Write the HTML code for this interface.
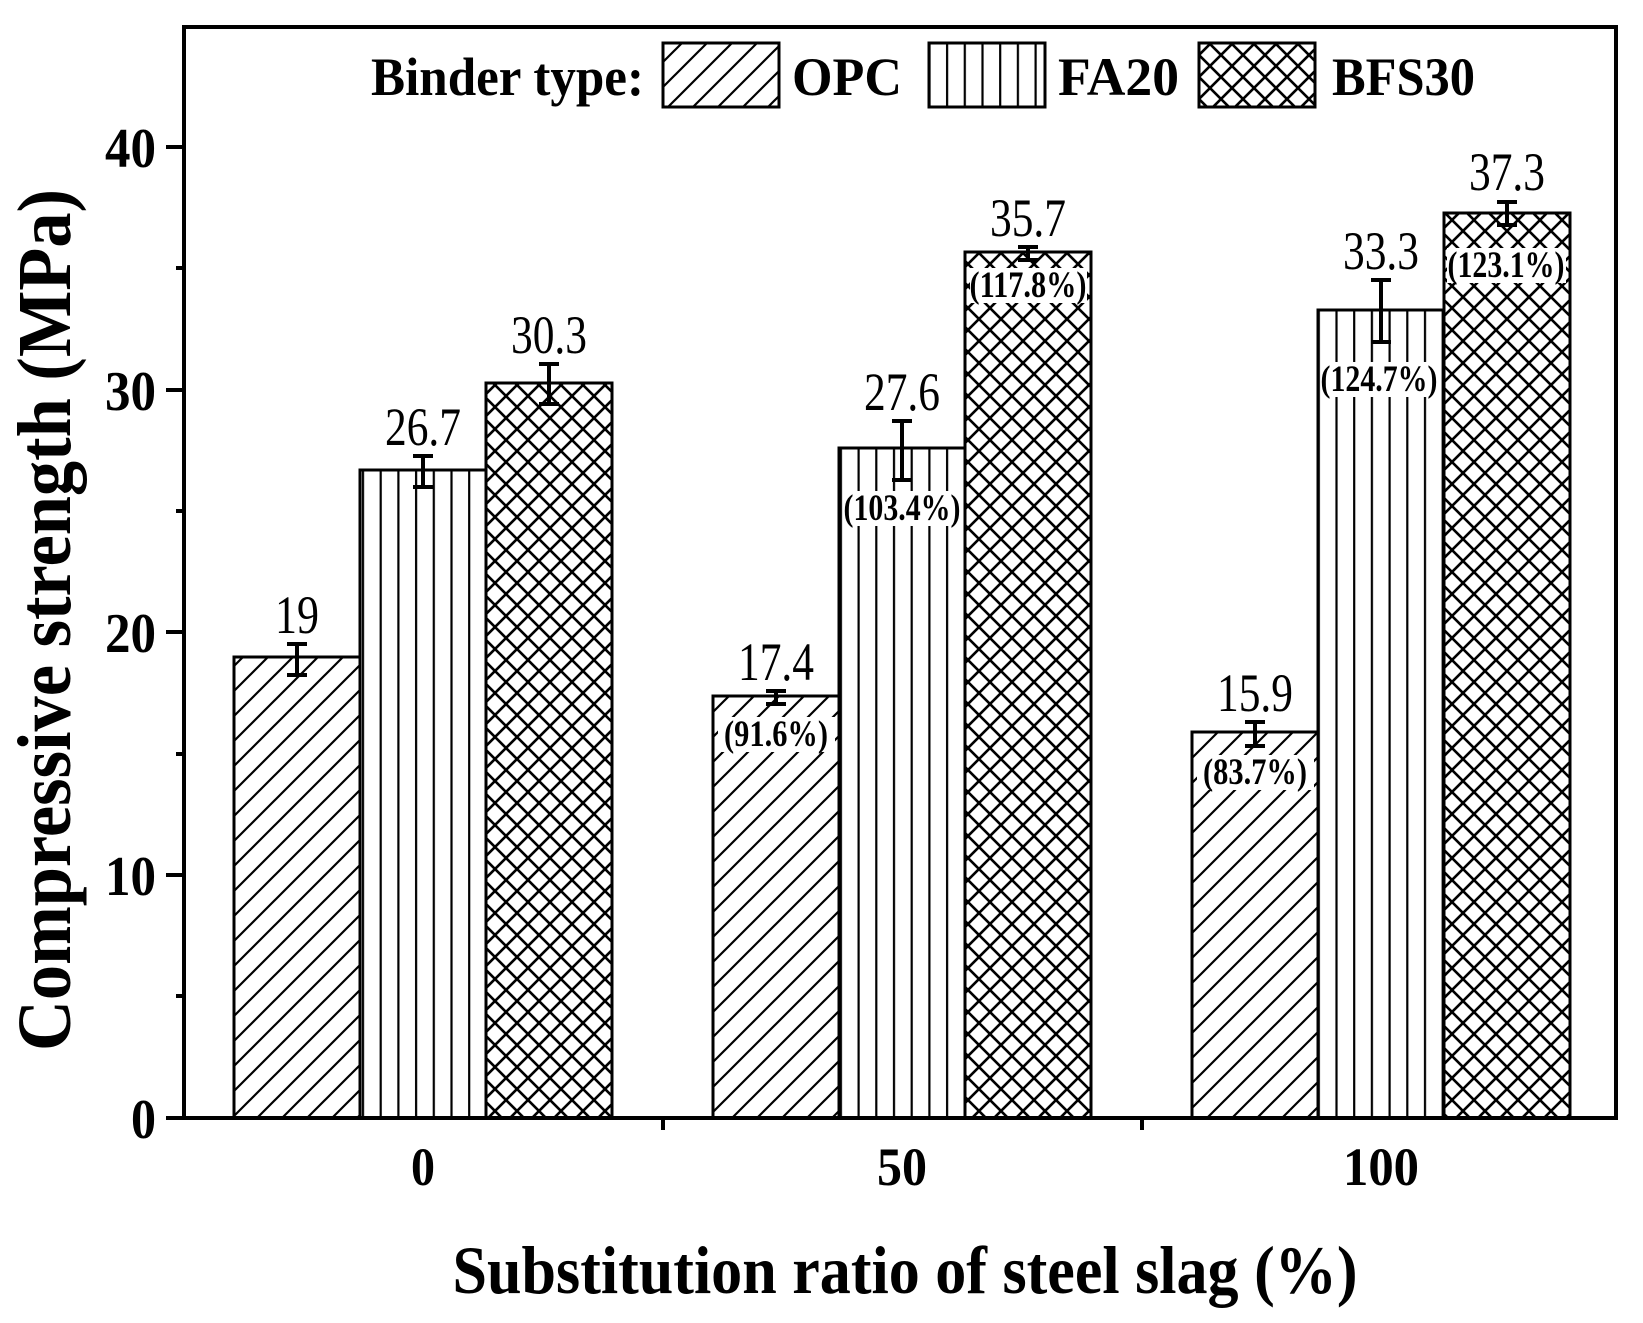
<!DOCTYPE html>
<html><head><meta charset="utf-8"><style>html,body{margin:0;padding:0;background:#fff}svg{display:block}</style></head>
<body>
<svg width="1643" height="1323" viewBox="0 0 1643 1323" xmlns="http://www.w3.org/2000/svg">
<defs>
<pattern id="diag" patternUnits="userSpaceOnUse" width="25" height="25">
<path d="M-5,30 L30,-5 M-5,5 L5,-5 M20,30 L30,20" stroke="#000" stroke-width="2.2"/>
</pattern>
<pattern id="vert" patternUnits="userSpaceOnUse" width="17.7" height="20">
<path d="M9,0 V20" stroke="#000" stroke-width="2.2"/>
</pattern>
<pattern id="cross" patternUnits="userSpaceOnUse" width="22" height="22">
<path d="M0,0 L22,22 M22,0 L0,22" stroke="#000" stroke-width="2.6"/>
</pattern>
</defs>
<g font-family="Liberation Serif, serif">
<g stroke="#000" stroke-width="3">
<rect x="234" y="657" width="126" height="461" fill="url(#diag)"/>
<rect x="360" y="470" width="126" height="648" fill="url(#vert)"/>
<rect x="486" y="383" width="126" height="735" fill="url(#cross)"/>
<rect x="713" y="696" width="126" height="422" fill="url(#diag)"/>
<rect x="839" y="448" width="126" height="670" fill="url(#vert)"/>
<rect x="965" y="252" width="126" height="866" fill="url(#cross)"/>
<rect x="1192" y="732" width="126" height="386" fill="url(#diag)"/>
<rect x="1318" y="310" width="126" height="808" fill="url(#vert)"/>
<rect x="1444" y="213" width="126" height="905" fill="url(#cross)"/>
</g>
<g stroke="#000" stroke-width="4">
<path d="M297,644V675M287,644H307M287,675H307"/>
<path d="M423,456V487M413,456H433M413,487H433"/>
<path d="M549,364V404M539,364H559M539,404H559"/>
<path d="M776,691V704M766,691H786M766,704H786"/>
<path d="M902,421V480M892,421H912M892,480H912"/>
<path d="M1028,247V260M1018,247H1038M1018,260H1038"/>
<path d="M1255,722V746M1245,722H1265M1245,746H1265"/>
<path d="M1381,280V342M1371,280H1391M1371,342H1391"/>
<path d="M1507,202V225M1497,202H1517M1497,225H1517"/>
</g>
<g fill="#fff">
<rect x="718" y="717" width="117" height="35"/>
<rect x="844" y="491" width="117" height="35"/>
<rect x="970" y="268" width="117" height="35"/>
<rect x="1197" y="755" width="117" height="35"/>
<rect x="1321" y="362" width="117" height="35"/>
<rect x="1447" y="248" width="119" height="35"/>
</g>
<g font-weight="bold" font-size="37" text-anchor="middle">
<text x="776" y="746" textLength="104" lengthAdjust="spacingAndGlyphs">(91.6%)</text>
<text x="902" y="520" textLength="117" lengthAdjust="spacingAndGlyphs">(103.4%)</text>
<text x="1028" y="297" textLength="117" lengthAdjust="spacingAndGlyphs">(117.8%)</text>
<text x="1255" y="784" textLength="104" lengthAdjust="spacingAndGlyphs">(83.7%)</text>
<text x="1379" y="391" textLength="117" lengthAdjust="spacingAndGlyphs">(124.7%)</text>
<text x="1506" y="277" textLength="117" lengthAdjust="spacingAndGlyphs">(123.1%)</text>
</g>
<g font-size="54" text-anchor="middle">
<text x="297" y="633" textLength="44" lengthAdjust="spacingAndGlyphs">19</text>
<text x="423" y="445" textLength="76" lengthAdjust="spacingAndGlyphs">26.7</text>
<text x="549" y="353" textLength="76" lengthAdjust="spacingAndGlyphs">30.3</text>
<text x="776" y="680" textLength="76" lengthAdjust="spacingAndGlyphs">17.4</text>
<text x="902" y="410" textLength="76" lengthAdjust="spacingAndGlyphs">27.6</text>
<text x="1028" y="236" textLength="76" lengthAdjust="spacingAndGlyphs">35.7</text>
<text x="1255" y="711" textLength="76" lengthAdjust="spacingAndGlyphs">15.9</text>
<text x="1381" y="269" textLength="76" lengthAdjust="spacingAndGlyphs">33.3</text>
<text x="1507" y="190" textLength="76" lengthAdjust="spacingAndGlyphs">37.3</text>
</g>
<g stroke="#000" stroke-width="4" fill="none">
<path d="M184,27 H1616 V1118 H184 Z"/>
<path d="M166,1118H184M166,875H184M166,632H184M166,390H184M166,147H184"/>
<path d="M176,996H184M176,754H184M176,511H184M176,268H184"/>
<path d="M663,1118V1130M1142,1118V1130"/>
</g>
<g font-weight="bold" font-size="56" text-anchor="end">
<text x="156" y="1138" textLength="25" lengthAdjust="spacingAndGlyphs">0</text>
<text x="156" y="895" textLength="51" lengthAdjust="spacingAndGlyphs">10</text>
<text x="156" y="652" textLength="51" lengthAdjust="spacingAndGlyphs">20</text>
<text x="156" y="410" textLength="51" lengthAdjust="spacingAndGlyphs">30</text>
<text x="156" y="167" textLength="51" lengthAdjust="spacingAndGlyphs">40</text>
</g>
<g font-weight="bold" font-size="54" text-anchor="middle">
<text x="423" y="1185" textLength="24" lengthAdjust="spacingAndGlyphs">0</text>
<text x="902" y="1185" textLength="50" lengthAdjust="spacingAndGlyphs">50</text>
<text x="1381" y="1185" textLength="76" lengthAdjust="spacingAndGlyphs">100</text>
</g>
<text x="905" y="1293" font-weight="bold" font-size="68" text-anchor="middle" textLength="905" lengthAdjust="spacingAndGlyphs">Substitution ratio of steel slag (%)</text>
<text transform="translate(70,620) rotate(-90)" font-weight="bold" font-size="76" text-anchor="middle" textLength="862" lengthAdjust="spacingAndGlyphs">Compressive strength (MPa)</text>
<g stroke="#000" stroke-width="3">
<rect x="663" y="43" width="116" height="64" fill="url(#diag)"/>
<rect x="929" y="43" width="116" height="64" fill="url(#vert)"/>
<rect x="1199" y="43" width="116" height="64" fill="url(#cross)"/>
</g>
<g font-weight="bold" font-size="54">
<text x="371" y="95" textLength="273" lengthAdjust="spacingAndGlyphs">Binder type:</text>
<text x="792" y="95" textLength="110" lengthAdjust="spacingAndGlyphs">OPC</text>
<text x="1058" y="95" textLength="121" lengthAdjust="spacingAndGlyphs">FA20</text>
<text x="1332" y="95" textLength="143" lengthAdjust="spacingAndGlyphs">BFS30</text>
</g>
</g>
</svg>
</body></html>
